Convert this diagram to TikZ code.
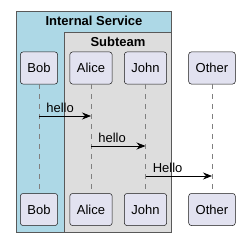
\documentclass[tikz,border=0pt]{standalone}
\usepackage{fontspec}
\setmainfont{Liberation Sans}
\usetikzlibrary{arrows.meta}
\definecolor{boxblue}{HTML}{ADD8E6}
\definecolor{boxgray}{HTML}{DDDDDD}
\definecolor{partfill}{HTML}{E2E2F0}
\definecolor{partline}{HTML}{181818}

\begin{document}
\begin{tikzpicture}[x=1pt, y=-1pt, font=\fontsize{13}{15}\selectfont,
  part/.style={draw=partline, fill=partfill, rounded corners=2.5pt, minimum height=32pt, inner xsep=7pt, line width=0.5pt},
  lifeline/.style={draw=gray, dash pattern=on 5pt off 5pt, line width=0.5pt},
  msg/.style={-{Stealth[length=9pt, width=7pt, inset=3pt]}, line width=0.7pt},
  msglabel/.style={pos=0, anchor=south west, inner sep=1pt, xshift=6pt, yshift=2pt},
  grouptitle/.style={font=\fontsize{13}{15}\selectfont\bfseries},
  groupbox/.style={draw=black!65, line width=0.8pt}]
\useasboundingbox (0,0) rectangle (246,246);
% boxes
\draw[groupbox, fill=boxblue] (16,11) rectangle (171,232);
\node[grouptitle] (svc) at (94,21) {Internal Service};
\draw[groupbox, fill=boxgray] (64,32) rectangle (171,232);
\node[grouptitle] (sub) at (118,42) {Subteam};
% participants
\foreach \n/\x/\t in {bob/39/Bob, alice/91/Alice, john/145.5/John, other/212/Other} {
  \node[part] (\n-top) at (\x,68) {\t};
  \node[part] (\n-bot) at (\x,209.5) {\t};
  \draw[lifeline] (\n-top) -- (\n-bot);
}
% messages
\draw[msg] (bob-top |- 0,116) -- node[msglabel] {hello} (alice-top |- 0,116);
\draw[msg] (alice-top |- 0,146) -- node[msglabel] {hello} (john-top |- 0,146);
\draw[msg] (john-top |- 0,176) -- node[msglabel] {Hello} (other-top |- 0,176);
\end{tikzpicture}
\end{document}
